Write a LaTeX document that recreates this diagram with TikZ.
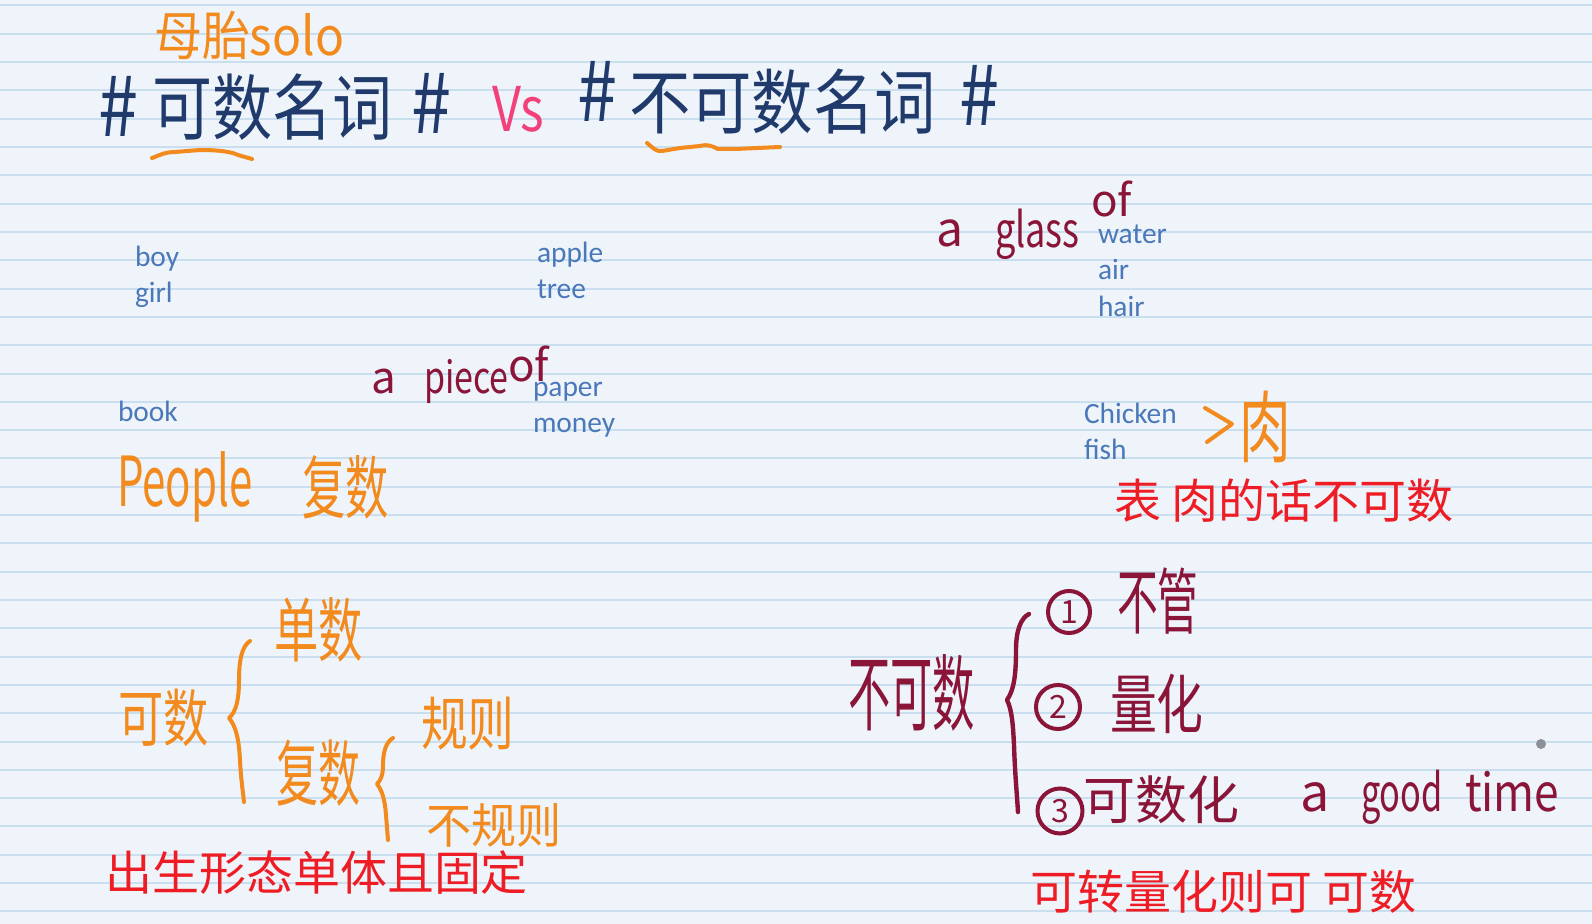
\documentclass[tikz,border=0pt]{standalone}
\usepackage{graphicx}
\usepackage{fontspec}
\setmainfont{Carlito}
\newfontfamily\cjk{Noto Sans CJK SC}
\newfontfamily\typed{Carlito}
\newcommand\hsc[3]{\scalebox{#1}[#2]{#3}}
\definecolor{paper}{HTML}{EEF4FA}
\definecolor{ruleblue}{HTML}{C9DFF0}
\definecolor{navy}{HTML}{1F3A6B}
\definecolor{orng}{HTML}{F28A1E}
\definecolor{pinkv}{HTML}{F2417A}
\definecolor{maroon}{HTML}{8A1538}
\definecolor{tblue}{HTML}{4A78B8}
\definecolor{tred}{HTML}{EE1D25}
\definecolor{dotgray}{HTML}{8C9099}
\tikzset{
  every node/.style={inner sep=0pt, outer sep=0pt, anchor=base west},
  ruleline/.style={draw=ruleblue, line width=1pt},
  typedword/.style={text=tblue, font=\typed\fontsize{14.7}{15}\selectfont},
  redtext/.style={text=tred, font=\cjk\fontsize{23.5}{24}\selectfont},
  hand/.style={font=\cjk\fontsize{#1}{#1}\selectfont},
  orangepen/.style={draw=orng, line width=2pt, line cap=round, line join=round},
  maroonpen/.style={draw=maroon, line width=2.2pt, line cap=round, line join=round},
  numcircle/.style={circle, draw=maroon, line width=2pt, minimum size=#1, anchor=center, text=maroon, font=\cjk\fontsize{16}{16}\selectfont},
}
\begin{document}
\begin{tikzpicture}[x=0.5pt,y=-0.5pt]
\useasboundingbox (0,0) rectangle (1592,924);
\fill[paper] (0,0) rectangle (1592,924);
\foreach \k in {0,...,32}{\draw[ruleline] (0,{5.5+28.31*\k}) -- (1592,{5.5+28.31*\k});}

% header
\node[hand=24, text=orng] (solo) at (154,56) {\hsc{1}{1.1}{母胎solo}};
\node[hand=36, text=navy] (h1) at (98,137) {\hsc{1}{1.15}{\#}};
\node[hand=30, text=navy] (t1) at (152,135) {\hsc{1}{1.2}{可数名词}};
\node[hand=36, text=navy] (h2) at (411,134) {\hsc{1}{1.15}{\#}};
\node[hand=28, text=pinkv] (vs) at (492,132) {\hsc{0.9}{1.1}{Vs}};
\node[hand=36, text=navy] (h3) at (577,122) {\hsc{1}{1.15}{\#}};
\node[hand=30.7, text=navy] (t2) at (629,129) {\hsc{1}{1.15}{不可数名词}};
\node[hand=36, text=navy] (h4) at (959,126) {\hsc{1}{1.15}{\#}};
\draw[orangepen] (152,158) .. controls (160,155) and (165,152) .. (175,152) -- (200,150) .. controls (220,150) and (232,152) .. (238,155) -- (252,159);
\draw[orangepen] (647,143) .. controls (652,147) and (656,152) .. (662,151) -- (680,148) -- (700,146) .. controls (708,144) and (712,146) .. (718,149) -- (735,149) -- (780,147);

% typed words
\node[typedword] (boy) at (135,267) {boy};
\node[typedword] (girl) at (135,303) {girl};
\node[typedword] (apple) at (537,263) {apple};
\node[typedword] (tree) at (537,299) {tree};
\node[typedword] (water) at (1098,244) {water};
\node[typedword] (air) at (1098,280) {air};
\node[typedword] (hair) at (1098,317) {hair};
\node[typedword] (paper) at (533,397) {paper};
\node[typedword] (money) at (533,433) {money};
\node[typedword] (book) at (118,422) {book};
\node[typedword] (chicken) at (1084,424) {Chicken};
\node[typedword] (fish) at (1084,460) {fish};

% a glass of / a piece of
\node[hand=24, text=maroon] (ga) at (936,247) {a};
\node[hand=22, text=maroon] (glass) at (995,248) {\hsc{0.82}{1.1}{glass}};
\node[hand=22, text=maroon] (gof) at (1091,217) {of};
\node[hand=22, text=maroon] (pa) at (371,394) {a};
\node[hand=20, text=maroon] (piece) at (424,394) {\hsc{0.85}{1.1}{piece}};
\node[hand=22, text=maroon] (pof) at (508,382) {of};

% people
\node[hand=30, text=orng] (people) at (117,507) {\hsc{0.7}{1.15}{People}};
\node[hand=30, text=orng] (fushu1) at (302,514) {\hsc{0.72}{1.15}{复数}};

% chicken -> meat
\draw[orangepen] (1205,408) -- (1232,424) -- (1207,442);
\node[hand=34, text=orng] (rou) at (1239,457) {\hsc{0.76}{1.15}{肉}};
\node[redtext] (note1) at (1114,519) {表 肉的话不可数};

% left tree
\node[hand=26, text=orng] (keshu) at (118,742) {\hsc{0.87}{1.2}{可数}};
\node[hand=28, text=orng] (danshu) at (274,657) {\hsc{0.79}{1.25}{单数}};
\node[hand=30, text=orng] (fushu2) at (276,801) {\hsc{0.7}{1.2}{复数}};
\node[hand=26, text=orng] (guize) at (421,746) {\hsc{0.9}{1.12}{规则}};
\node[hand=24, text=orng] (buguize) at (426,844) {\hsc{0.94}{1.0}{不规则}};
\draw[orangepen] (250,641) .. controls (242,646) and (239,660) .. (239,680) .. controls (239,700) and (236,712) .. (229,718) .. controls (236,726) and (239,740) .. (240,760) .. controls (241,780) and (243,792) .. (244,802);
\draw[orangepen] (393,738) .. controls (386,742) and (383,752) .. (383,765) .. controls (383,775) and (381,780) .. (377,784) .. controls (382,790) and (385,800) .. (386,815) -- (388,840);
\node[redtext] (note2) at (105,891) {出生形态单体且固定};

% right tree
\node[hand=32, text=maroon] (bukeshu) at (848,725) {\hsc{0.66}{1.3}{不可数}};
\draw[maroonpen] (1029,614) .. controls (1021,618) and (1016,630) .. (1016,650) .. controls (1016,675) and (1014,690) .. (1007,700) .. controls (1012,710) and (1013,725) .. (1014,745) .. controls (1015,775) and (1017,795) .. (1018,812);
\node[numcircle=21pt] (c1) at (1069,612) {1};
\node[hand=30, text=maroon] (buguan) at (1117,629) {\hsc{0.68}{1.2}{不管}};
\node[numcircle=22pt] (c2) at (1058,707) {2};
\node[hand=30, text=maroon] (lianghua) at (1110,729) {\hsc{0.78}{1.08}{量化}};
\node[numcircle=22.5pt] (c3) at (1060,811) {3};
\node[hand=26, text=maroon] (keshuhua) at (1083,820) {可数化};
\node[hand=26, text=maroon] (aa) at (1300,812) {a};
\node[hand=26, text=maroon] (good) at (1361,812) {\hsc{0.66}{1}{good}};
\node[hand=26, text=maroon] (time) at (1465,812) {\hsc{0.85}{1}{time}};
\fill[dotgray] (1541,744) circle[radius=5];
\node[redtext] (note3) at (1030,910) {可转量化则可 可数};
\end{tikzpicture}
\end{document}
